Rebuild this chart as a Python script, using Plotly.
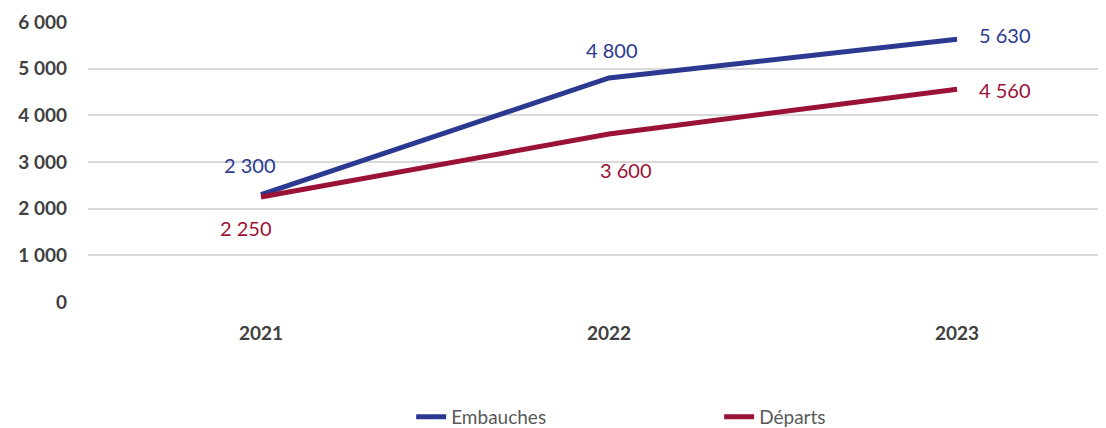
import plotly.graph_objects as go

years = ["2021", "2022", "2023"]
embauches = [2300, 4800, 5630]
departs = [2250, 3600, 4560]
series_names = ["Embauches", "Départs"]
y_ticks = [0, 1000, 2000, 3000, 4000, 5000, 6000]

blue = "#2B3990"
red = "#9B1237"
font_family = "Lato, 'Noto Sans', sans-serif"

def fmt(v):
    return f"{v:,}".replace(",", " ")

x_idx = list(range(len(years)))

fig = go.Figure()
fig.add_trace(go.Scatter(x=x_idx, y=embauches, mode="lines", name=series_names[0],
                         line=dict(color=blue, width=5)))
fig.add_trace(go.Scatter(x=x_idx, y=departs, mode="lines", name=series_names[1],
                         line=dict(color=red, width=5)))

emb_shifts = [(-11, 30), (3, 28), (48, 4)]
dep_shifts = [(-15, -31), (17, -36), (48, -1)]
for i, v in enumerate(embauches):
    fig.add_annotation(x=x_idx[i], y=v, text=fmt(v), showarrow=False,
                       xshift=emb_shifts[i][0], yshift=emb_shifts[i][1],
                       font=dict(family=font_family, size=20, color=blue))
for i, v in enumerate(departs):
    fig.add_annotation(x=x_idx[i], y=v, text=fmt(v), showarrow=False,
                       xshift=dep_shifts[i][0], yshift=dep_shifts[i][1],
                       font=dict(family=font_family, size=20, color=red))

fig.update_layout(
    width=1106, height=428,
    margin=dict(l=80, r=8, t=14, b=134, autoexpand=False),
    paper_bgcolor="white", plot_bgcolor="white",
    separators=", ",
    font=dict(family=font_family),
    showlegend=True,
    legend=dict(orientation="h", x=0.620, xanchor="center", y=-0.41, yanchor="middle",
                font=dict(family=font_family, size=19, color="#595959"),
                entrywidth=263, itemwidth=30),
    xaxis=dict(range=[-0.497, 2.428], tickmode="array", tickvals=x_idx, ticktext=years,
               showgrid=False, zeroline=False, showline=False, ticks="",
               ticklabelstandoff=18, automargin=False,
               tickfont=dict(family=font_family, size=19, color="#404040", weight="bold")),
    yaxis=dict(range=[0, 6000], tickvals=y_ticks, tickformat=",d",
               showgrid=True, gridcolor="#D9D9D9", gridwidth=1.5,
               zeroline=False, showline=False, ticks="",
               ticklabelstandoff=20, automargin=False,
               tickfont=dict(family=font_family, size=19, color="#404040", weight="bold")),
)

fig.write_html("out.html")
